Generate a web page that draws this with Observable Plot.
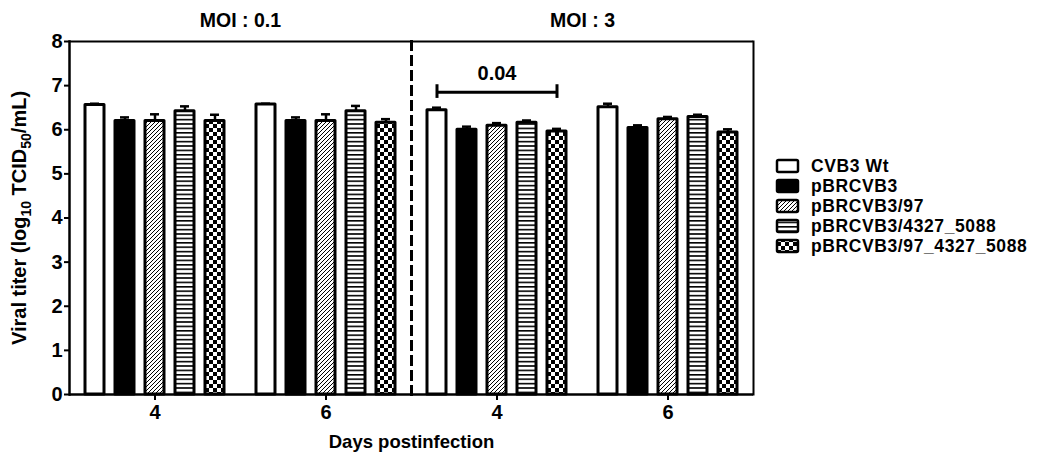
<!DOCTYPE html>
<html><head><meta charset="utf-8">
<script src="https://cdn.jsdelivr.net/npm/d3@7"></script>
<script src="https://cdn.jsdelivr.net/npm/@observablehq/plot@0.6"></script>
<style>
body{margin:0;background:#fff;}
#wrap{position:relative;width:1049px;height:457px;font-family:"Liberation Sans",Arial,sans-serif;}
#legend{position:absolute;left:773px;top:154px;}
</style></head><body>
<svg width="0" height="0" style="position:absolute">
  <defs>
    <pattern id="pHatch" patternUnits="userSpaceOnUse" width="4" height="4">
      <rect width="4" height="4" fill="white"/>
      <path d="M-1,1 l2,-2 M0,4 l4,-4 M3,5 l2,-2" stroke="black" stroke-width="1"/>
    </pattern>
    <pattern id="pHoriz" patternUnits="userSpaceOnUse" width="4" height="4.4">
      <rect width="4" height="4.4" fill="white"/>
      <rect y="0" width="4" height="1.6" fill="black"/>
    </pattern>
    <pattern id="pCheck" patternUnits="userSpaceOnUse" width="8" height="8">
      <rect width="8" height="8" fill="white"/>
      <rect x="0" y="0" width="4" height="4" fill="black"/>
      <rect x="4" y="4" width="4" height="4" fill="black"/>
    </pattern>
  </defs>
</svg>
<div id="wrap"><div id="legend"></div></div>
<script>
// ---- data ----
const groups = ["0.1|4", "0.1|6", "3|4", "3|6"];
const dayLabels = ["4", "6", "4", "6"];
const moiLabels = ["MOI : 0.1", "MOI : 3"];
const strains = ["CVB3 Wt", "pBRCVB3", "pBRCVB3/97", "pBRCVB3/4327_5088", "pBRCVB3/97_4327_5088"];
const fills = ["white", "black", "url(#pHatch)", "url(#pHoriz)", "url(#pCheck)"];
const means = [
  [6.56, 6.20, 6.20, 6.42, 6.20],
  [6.57, 6.20, 6.20, 6.42, 6.16],
  [6.44, 6.00, 6.09, 6.16, 5.96],
  [6.51, 6.04, 6.24, 6.29, 5.94]
];
const errs = [
  [0.03, 0.08, 0.15, 0.11, 0.14],
  [0.02, 0.08, 0.15, 0.12, 0.08],
  [0.06, 0.07, 0.06, 0.05, 0.06],
  [0.08, 0.06, 0.05, 0.05, 0.07]
];
const yTicks = [0, 1, 2, 3, 4, 5, 6, 7, 8];
const yLabel = "Viral titer (log10 TCID50/mL)";
const xLabel = "Days postinfection";
const annot = {group: "3|4", from: "CVB3 Wt", mid: "pBRCVB3/97", to: "pBRCVB3/97_4327_5088", y: 6.85, capLow: 6.71, capHigh: 7.02, label: "0.04"};

const data = groups.flatMap((g, gi) => strains.map((s, si) => ({group: g, strain: s, mean: means[gi][si], err: errs[gi][si]})));
const moiData = [{group: groups[1], label: moiLabels[0]}, {group: groups[3], label: moiLabels[1]}];
const xLabelData = [{group: groups[2], label: xLabel}];
const ends = [annot.from, annot.to];

const FONT = "Liberation Sans, Arial, sans-serif";
const plot = Plot.plot({
  width: 1049, height: 457,
  marginLeft: 68, marginRight: 296, marginTop: 41, marginBottom: 63,
  style: {fontFamily: FONT, fontWeight: "bold", fontSize: "20px", color: "black", background: "white", overflow: "visible"},
  fx: {domain: groups, padding: 0, axis: null, label: null},
  x: {domain: strains, paddingInner: 0.372, paddingOuter: 0.516, axis: null},
  y: {domain: [0, 8], axis: null},
  color: {domain: strains, range: fills},
  marks: [
    Plot.barY(data, {fx: "group", x: "strain", y: "mean", fill: "strain", stroke: "black", strokeWidth: 3, strokeLinejoin: "round"}),
    Plot.ruleX(data, {fx: "group", x: "strain", y1: "mean", y2: d => d.mean + d.err, stroke: "black", strokeWidth: 2.5}),
    Plot.tickY(data, {fx: "group", x: "strain", y: d => d.mean + d.err, stroke: "black", strokeWidth: 2.5, insetLeft: 5, insetRight: 5}),
    Plot.ruleY([0], {stroke: "black", strokeWidth: 2.5}),
    Plot.ruleY([8], {stroke: "black", strokeWidth: 2}),
    Plot.frame({anchor: "left", fx: groups[0], stroke: "black", strokeWidth: 2.5}),
    Plot.frame({anchor: "right", fx: groups[3], stroke: "black", strokeWidth: 2}),
    Plot.frame({anchor: "left", fx: groups[2], stroke: "black", strokeWidth: 3, strokeDasharray: "8,7"}),
    Plot.axisY({ticks: yTicks, tickSize: 5, strokeWidth: 2, tickPadding: 2, fontSize: 20, fontWeight: "bold",
      label: yLabel, labelAnchor: "center", labelOffset: 58, labelArrow: "none"}),
    Plot.axisFx({anchor: "bottom", tickSize: 6, strokeWidth: 2, tickPadding: 4, fontSize: 20, fontWeight: "bold",
      tickFormat: g => dayLabels[groups.indexOf(g)], label: null}),
    Plot.text(moiData, {fx: "group", text: "label", frameAnchor: "top-left", textAnchor: "middle", lineAnchor: "bottom", dy: -15, fontSize: 19.5, fontWeight: "bold"}),
    Plot.text(xLabelData, {fx: "group", text: "label", frameAnchor: "bottom-left", textAnchor: "middle", lineAnchor: "bottom", dy: 53, fontSize: 18.5, fontWeight: "bold"}),
    Plot.link([annot], {fx: "group", x1: "from", x2: "to", y1: "y", y2: "y", stroke: "black", strokeWidth: 3}),
    Plot.ruleX(ends, {fx: () => annot.group, x: d => d, y1: () => annot.capLow, y2: () => annot.capHigh, stroke: "black", strokeWidth: 3}),
    Plot.text([annot], {fx: "group", x: "mid", y: "y", text: "label", dy: -12, lineAnchor: "bottom", fontSize: 20, fontWeight: "bold"})
  ]
});
document.getElementById("wrap").prepend(plot);

// subscripts in the y label
const lab = plot.querySelector('g[aria-label="y-axis label"] text');
if (lab) {
  lab.setAttribute("font-size", "20");
  const parts = [["Viral titer (log", 0], ["10", 1], [" TCID", 0], ["50", 1], ["/mL)", 0]];
  lab.textContent = "";
  let sub = false;
  for (const [t, s] of parts) {
    const ts = document.createElementNS("http://www.w3.org/2000/svg", "tspan");
    ts.textContent = t;
    if (s) { ts.setAttribute("font-size", "14"); }
    if (s && !sub) { ts.setAttribute("dy", "5"); sub = true; }
    else if (!s && sub) { ts.setAttribute("dy", "-5"); sub = false; }
    lab.appendChild(ts);
  }
}

// legend
const lg = d3.select("#legend").append("svg").attr("width", 276).attr("height", 112)
  .style("font-family", FONT).style("font-weight", "bold").style("font-size", "17.5px").style("letter-spacing", "0.6px");
strains.forEach((s, i) => {
  const g = lg.append("g").attr("transform", `translate(0,${12 + i * 20})`);
  g.append("rect").attr("x", 4).attr("y", -6).attr("width", 21).attr("height", 12)
    .attr("fill", fills[i]).attr("stroke", "black").attr("stroke-width", 2.5).attr("rx", 1.5);
  g.append("text").attr("x", 38).attr("y", 0).attr("dy", "0.36em").text(s);
});
</script>
</body></html>
